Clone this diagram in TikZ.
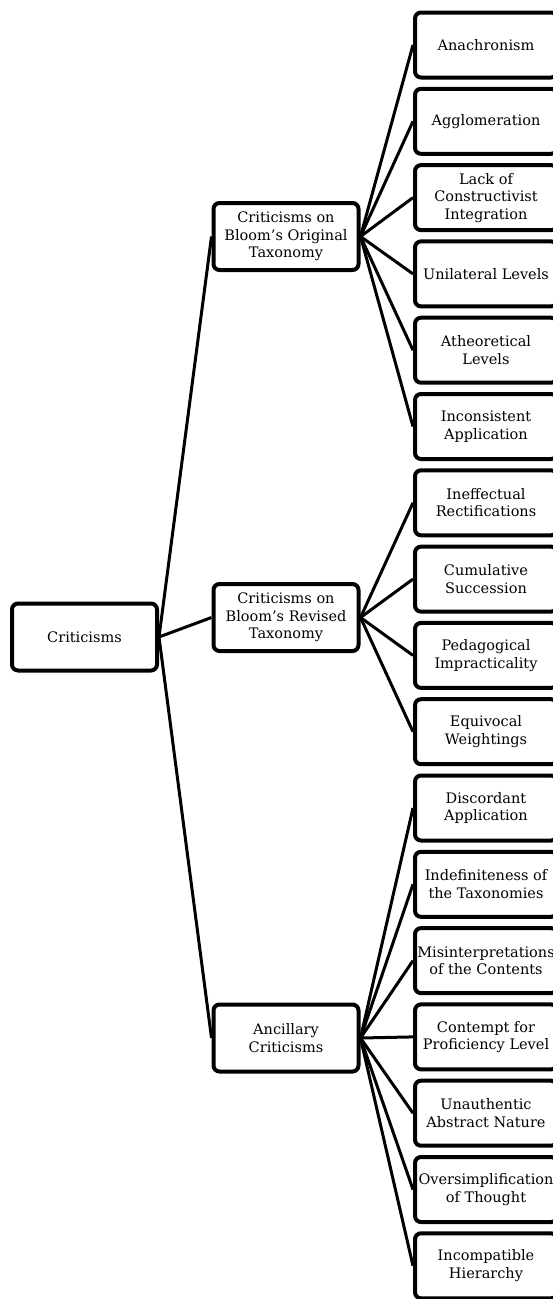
\documentclass[tikz,border=0pt]{standalone}
\usepackage{fontspec}
\setmainfont{DejaVu Serif}
\usepackage{tikz}

\begin{document}
\begin{tikzpicture}[x=1pt, y=-1pt, every node/.style={font=\fontsize{14.5}{17.5}\selectfont},
	box/.style={draw, line width=4pt, rounded corners=6pt, align=center, inner sep=0pt},
	topbox/.style={box, minimum width=145pt, minimum height=67pt},
	leafbox/.style={box, minimum width=142pt, minimum height=65pt},
	link/.style={line width=3pt}]
	\useasboundingbox (0,0) rectangle (553,1299);
	\node[topbox] (crit) at (84.5,637) {Criticisms};
	\node[topbox] (orig) at (286,236.5) {Criticisms on\\Bloom's Original\\Taxonomy};
	\node[topbox] (rev) at (286,617.5) {Criticisms on\\Bloom's Revised\\Taxonomy};
	\node[topbox] (anc) at (286,1038) {Ancillary\\Criticisms};
	\foreach \i/\txt in {1/Anachronism, 2/Agglomeration, 3/{Lack of\\Constructivist\\Integration}, 4/Unilateral Levels, 5/{Atheoretical\\Levels}, 6/{Inconsistent\\Application}, 7/{Ineffectual\\Rectifications}, 8/{Cumulative\\Succession}, 9/{Pedagogical\\Impracticality}, 10/{Equivocal\\Weightings}, 11/{Discordant\\Application}, 12/{Indefiniteness of\\the Taxonomies}, 13/{Misinterpretations\\of the Contents}, 14/{Contempt for\\Proficiency Level}, 15/{Unauthentic\\Abstract Nature}, 16/{Oversimplification\\of Thought}, 17/{Incompatible\\Hierarchy}}
		\node[leafbox] (leaf\i) at (486,{45+76.3*(\i-1)}) {\txt};
	\foreach \m in {orig,rev,anc}
		\draw[link] (crit.east) -- (\m.west);
	\foreach \i in {1,...,6}
		\draw[link] (orig.east) -- (leaf\i.west);
	\foreach \i in {7,...,10}
		\draw[link] (rev.east) -- (leaf\i.west);
	\foreach \i in {11,...,17}
		\draw[link] (anc.east) -- (leaf\i.west);
\end{tikzpicture}
\end{document}
